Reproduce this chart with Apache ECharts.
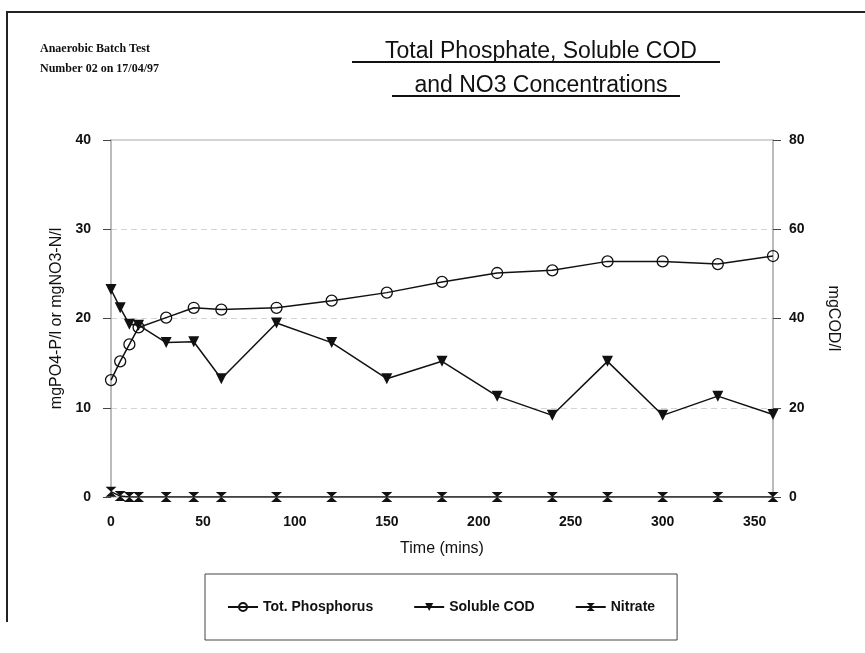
<!DOCTYPE html>
<html>
<head>
<meta charset="utf-8">
<script src="https://cdn.jsdelivr.net/npm/echarts@6/dist/echarts.min.js"></script>
<style>
  html, body { margin: 0; padding: 0; background: #fff; }
  #chart { width: 865px; height: 653px; }
</style>
</head>
<body>
<div id="chart"></div>
<script>
// sampling times (mins)
const times = [0, 5, 10, 15, 30, 45, 60, 90, 120, 150, 180, 210, 240, 270, 300, 330, 360];
// mgPO4-P/l (left axis)
const phosphorus = [13.1, 15.2, 17.1, 19.0, 20.1, 21.2, 21.0, 21.2, 22.0, 22.9, 24.1, 25.1, 25.4, 26.4, 26.4, 26.1, 27.0];
// mgCOD/l (right axis)
const solubleCod = [46.5, 42.4, 38.7, 38.5, 34.6, 34.8, 26.5, 39.0, 34.6, 26.5, 30.4, 22.6, 18.3, 30.4, 18.3, 22.6, 18.5];
// mgNO3-N/l (left axis)
const nitrate = [0.6, 0.1, 0, 0, 0, 0, 0, 0, 0, 0, 0, 0, 0, 0, 0, 0, 0];

const seriesNames = ['Tot. Phosphorus', 'Soluble COD', 'Nitrate'];
const xTicks = [0, 50, 100, 150, 200, 250, 300, 350];

const pairs = vals => times.map((t, i) => [t, vals[i]]);

const FONT = 'Liberation Sans';
const INK = '#111';
const hourglass = 'path://M0,0L10,0L5,5L10,10L0,10L5,5Z';

const chart = echarts.init(document.getElementById('chart'));

const option = {
  animation: false,
  backgroundColor: '#fff',
  textStyle: { fontFamily: FONT, color: INK },
  title: [
    {
      text: 'Total Phosphate, Soluble COD\nand NO3 Concentrations',
      left: 536, top: 30, textAlign: 'center',
      textStyle: { fontFamily: FONT, fontSize: 23, fontWeight: 'normal', color: INK, lineHeight: 34 }
    },
    {
      text: 'Anaerobic Batch Test\nNumber 02 on 17/04/97',
      left: 35, top: 34,
      textStyle: { fontFamily: 'Liberation Serif', fontSize: 12, fontWeight: 'bold', color: INK, lineHeight: 20 }
    }
  ],
  graphic: [
    // page frame (top and left edges)
    { type: 'polyline', shape: { points: [[7, 622], [7, 12], [865, 12]] }, style: { stroke: '#222', lineWidth: 2, fill: null } },
    // title underlines
    { type: 'line', shape: { x1: 352, y1: 62, x2: 720, y2: 62 }, style: { stroke: INK, lineWidth: 2 } },
    { type: 'line', shape: { x1: 392, y1: 96, x2: 680, y2: 96 }, style: { stroke: INK, lineWidth: 2 } }
  ],
  legend: {
    data: seriesNames,
    left: 205, top: 574,
    orient: 'horizontal',
    itemWidth: 30, itemHeight: 10, itemGap: 40,
    padding: [26, 22, 26, 22],
    borderColor: '#444', borderWidth: 1,
    textStyle: { fontFamily: FONT, fontSize: 14, fontWeight: 'bold', color: INK }
  },
  grid: {
    left: 111, right: 92, top: 140, bottom: 156,
    show: true, borderColor: '#aaa', borderWidth: 1
  },
  xAxis: {
    type: 'value', min: 0, max: 360, interval: 50,
    name: 'Time (mins)', nameLocation: 'middle', nameGap: 44,
    nameTextStyle: { fontFamily: FONT, fontSize: 16, color: INK },
    axisLine: { show: false },
    axisTick: { show: false },
    splitLine: { show: false },
    axisLabel: {
      fontFamily: FONT, fontSize: 14, fontWeight: 'bold', color: INK, margin: 18,
      showMaxLabel: false,
      formatter: v => (xTicks.indexOf(v) >= 0 ? String(v) : '')
    }
  },
  yAxis: [
    {
      type: 'value', min: 0, max: 40, interval: 10,
      name: 'mgPO4-P/l or mgNO3-N/l', nameLocation: 'middle', nameGap: 40,
      nameTextStyle: { fontFamily: FONT, fontSize: 16, color: INK },
      axisLine: { show: true, lineStyle: { color: '#bbb', width: 2 } },
      axisTick: { show: true, inside: false, length: 8, lineStyle: { color: '#444' } },
      axisLabel: { fontFamily: FONT, fontSize: 14, fontWeight: 'bold', color: INK, margin: 20 },
      splitLine: { show: true, lineStyle: { color: '#d4d4d4', type: [6, 4], width: 1 } }
    },
    {
      type: 'value', min: 0, max: 80, interval: 20,
      name: 'mgCOD/l', nameLocation: 'middle', nameGap: 52, nameRotate: -90,
      nameTextStyle: { fontFamily: FONT, fontSize: 16, color: INK },
      axisLine: { show: true, lineStyle: { color: '#bbb', width: 2 } },
      axisTick: { show: true, length: 8, lineStyle: { color: '#444' } },
      axisLabel: { fontFamily: FONT, fontSize: 14, fontWeight: 'bold', color: INK, margin: 16 },
      splitLine: { show: false }
    }
  ],
  series: [
    {
      name: seriesNames[0], type: 'line', yAxisIndex: 0,
      data: pairs(phosphorus),
      symbol: 'circle', symbolSize: 11,
      itemStyle: { color: 'rgba(255,255,255,0)', borderColor: INK, borderWidth: 1.3 },
      lineStyle: { color: INK, width: 1.5 },
      z: 3
    },
    {
      name: seriesNames[1], type: 'line', yAxisIndex: 1,
      data: pairs(solubleCod),
      symbol: 'triangle', symbolRotate: 180, symbolSize: 11,
      itemStyle: { color: INK },
      lineStyle: { color: INK, width: 1.5 },
      z: 3
    },
    {
      name: seriesNames[2], type: 'line', yAxisIndex: 0,
      data: pairs(nitrate),
      symbol: hourglass, symbolSize: [11, 10],
      itemStyle: { color: INK },
      lineStyle: { color: INK, width: 1.5 },
      z: 4
    }
  ]
};

chart.setOption(option);
</script>
</body>
</html>
